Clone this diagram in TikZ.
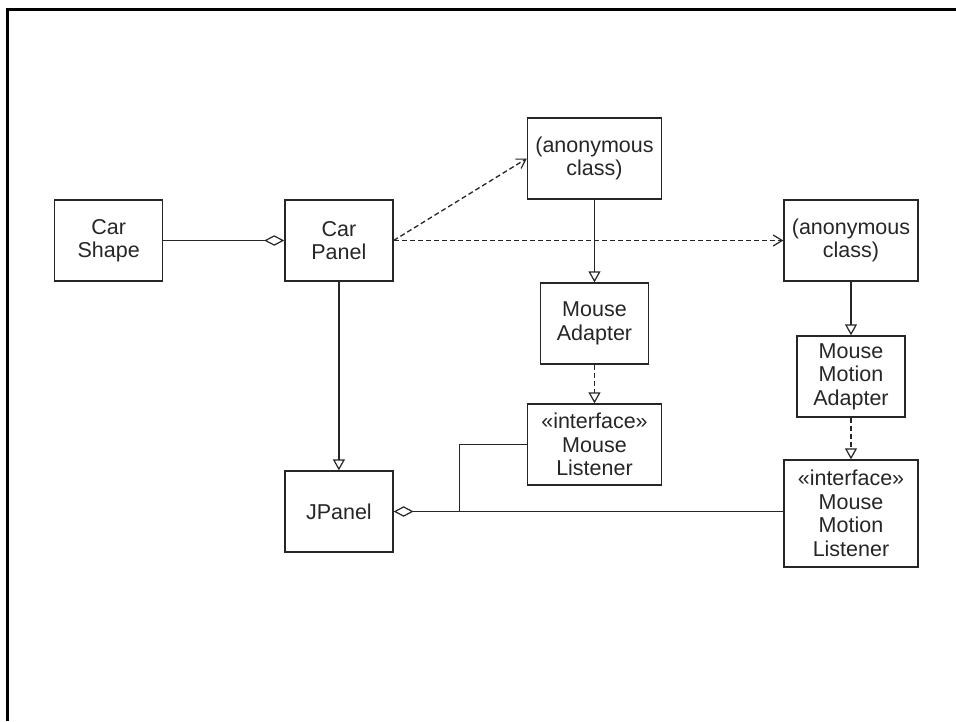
\documentclass[tikz,border=0pt]{standalone}
\usepackage{fontspec}
\setmainfont{Liberation Sans}
\usetikzlibrary{arrows.meta}
\definecolor{ink}{HTML}{262626}
\begin{document}
\begin{tikzpicture}[x=1pt,y=-1pt,
  font=\fontsize{21.5}{23.5}\selectfont,
  cls/.style={draw=ink, line width=1.4pt, text=ink, align=center, inner sep=0pt,
    minimum width=108pt, minimum height=81pt},
  wide/.style={cls, minimum width=134pt},
  conn/.style={draw=ink, line width=1.3pt},
  dashconn/.style={conn, dash pattern=on 5pt off 3pt},
  gen/.style={-{Triangle[open, length=11pt, width=12pt, line width=1.2pt]}},
  dep/.style={-{Straight Barb[length=9pt, width=11pt, line width=1.2pt]}},
  agg/.style={{Diamond[open, length=20pt, width=10.5pt, line width=1.2pt]}-}
]
\useasboundingbox (0,0) rectangle (956,721);
\draw[black, line width=2.5pt] (7.7,721) -- (7.7,9.7) -- (956,9.7);

\node[cls]  (carshape)  at (108.7,240.5) {Car\\Shape};
\node[cls]  (carpanel)  at (338.9,240.5) {Car\\Panel};
\node[wide] (anon1)     at (594.5,158.5) {(anonymous\\class)};
\node[wide] (anon2)     at (851,240.5)   {(anonymous\\class)};
\node[cls]  (madapter)  at (594.5,323.5) {Mouse\\Adapter};
\node[wide] (mlistener) at (594.5,444.5) {«interface»\\Mouse\\Listener};
\node[cls]  (mmadapter) at (851,376.5)   {Mouse\\Motion\\Adapter};
\node[wide, minimum height=107pt] (mmlistener) at (851,513.5) {«interface»\\Mouse\\Motion\\Listener};
\node[cls]  (jpanel)    at (338.9,511.5) {JPanel};
\coordinate (junc) at (459.3,511.5);

\draw[conn, agg] (carpanel.west) -- (carshape.east);
\draw[dashconn, dep] (carpanel.east) -- (anon1.west);
\draw[dashconn, dep] (carpanel.east) -- (carpanel.east -| anon2.west);
\draw[conn, gen] (anon1.south) -- (madapter.north);
\draw[dashconn, gen] (madapter.south) -- (mlistener.north);
\draw[conn, gen] (anon2.south) -- (mmadapter.north);
\draw[dashconn, gen] (mmadapter.south) -- (mmlistener.north);
\draw[conn, gen] (carpanel.south) -- (jpanel.north);
\draw[conn, agg] (jpanel.east) -- (jpanel.east -| mmlistener.west);
\draw[conn] (mlistener.west) -| (junc);
\end{tikzpicture}
\end{document}
